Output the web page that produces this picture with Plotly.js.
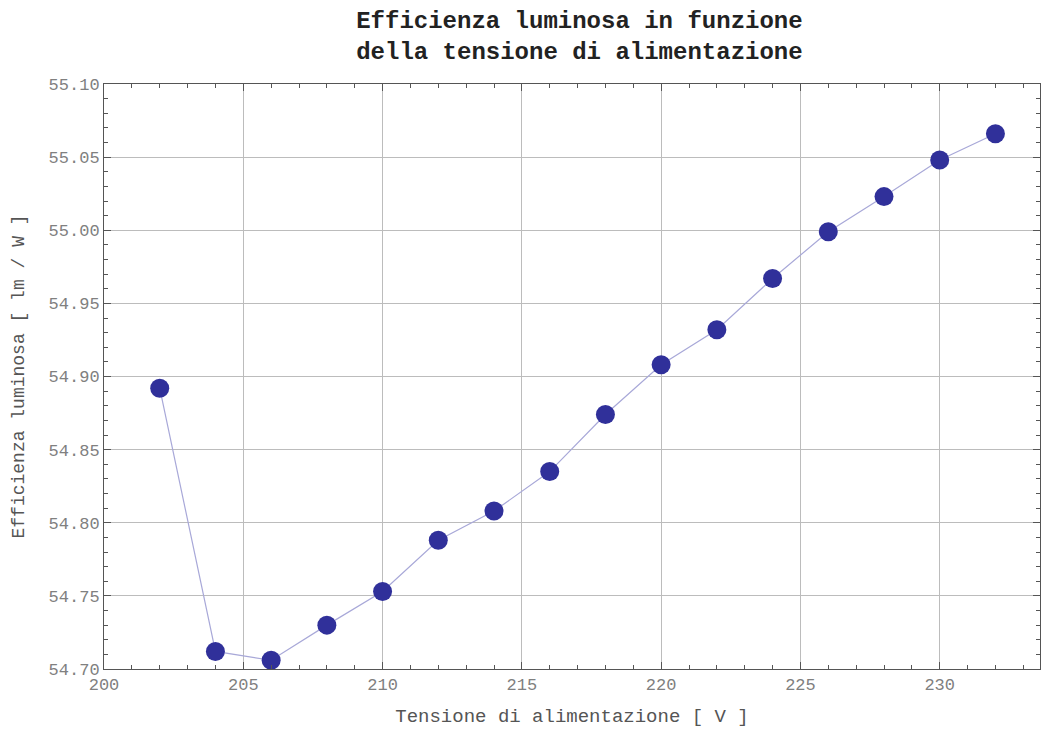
<!DOCTYPE html>
<html><head><meta charset="utf-8">
<script src="https://cdn.plot.ly/plotly-3.0.1.min.js"></script>
<style>html,body{margin:0;padding:0;background:#fff;}#plot{width:1044px;height:729px;}</style>
</head><body><div id="plot"></div>
<script>
var voltage = [202, 204, 206, 208, 210, 212, 214, 216, 218, 220, 222, 224, 226, 228, 230, 232];
var efficiency = [54.892, 54.712, 54.706, 54.730, 54.753, 54.788, 54.808, 54.835, 54.874, 54.908, 54.932, 54.967, 54.999, 55.023, 55.048, 55.066];
var titleText = 'Efficienza luminosa in funzione<br>della tensione di alimentazione';
var xTitle = 'Tensione di alimentazione [ V ]';
var yTitle = 'Efficienza luminosa [ lm / W ]';

var mono = '"Liberation Mono", "DejaVu Sans Mono", monospace';
var trace = {
  x: voltage, y: efficiency, type: 'scatter', mode: 'lines+markers',
  line: {color: '#a8a8d8', width: 1.2},
  marker: {color: '#30309a', size: 19},
  cliponaxis: false, hoverinfo: 'x+y'
};
var axisCommon = {
  showline: true, linecolor: '#555', linewidth: 1, mirror: 'ticks',
  ticks: 'inside', ticklen: 7, tickcolor: '#555', tickwidth: 1,
  showgrid: true, gridcolor: '#bcbcbc', gridwidth: 1,
  zeroline: false,
  tickfont: {family: mono, size: 17, color: '#808080'}
};
var layout = {
  width: 1044, height: 729,
  margin: {l: 104, r: 4, t: 84, b: 60},
  paper_bgcolor: '#fff', plot_bgcolor: '#fff',
  showlegend: false,
  title: {text: titleText, x: 0.555, xanchor: 'center', y: 0.962, yanchor: 'middle',
          font: {family: mono, size: 24, color: '#222', weight: 'bold'}},
  xaxis: Object.assign({}, axisCommon, {
    range: [200, 233.6], dtick: 5, tick0: 200,
    minor: {dtick: 1, ticks: 'inside', ticklen: 4, tickcolor: '#555', showgrid: false},
    title: {text: xTitle, standoff: 14, font: {family: mono, size: 19, color: '#555'}}
  }),
  yaxis: Object.assign({}, axisCommon, {
    range: [54.70, 55.10], dtick: 0.05, tick0: 54.70, tickformat: '.2f',
    minor: {dtick: 0.01, ticks: 'inside', ticklen: 4, tickcolor: '#555', showgrid: false},
    title: {text: yTitle, standoff: 19, font: {family: mono, size: 18, color: '#555'}}
  })
};
Plotly.newPlot('plot', [trace], layout, {displayModeBar: false, staticPlot: true});
</script>
</body></html>
